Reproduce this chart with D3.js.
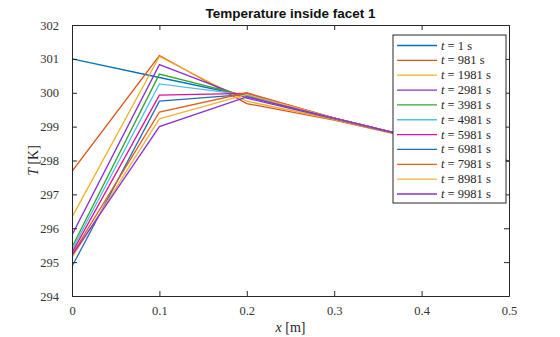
<!DOCTYPE html>
<html>
<head>
<meta charset="utf-8">
<script src="https://cdn.jsdelivr.net/npm/d3@7"></script>
<style>
  html, body { margin: 0; padding: 0; background: #fff; }
  svg { display: block; }
  .tick text { font-family: "Liberation Serif", "Times New Roman", serif; }
</style>
</head>
<body>
<svg id="chart" width="560" height="337"></svg>
<script>
// Node positions across the facet (m)
const positions = [0, 0.1, 0.2, 0.3, 0.4, 0.5];
// Snapshot times (s)
const times = [1, 981, 1981, 2981, 3981, 4981, 5981, 6981, 7981, 8981, 9981];
// Temperature (K) at each node, one array per snapshot
const temp_t1    = [301.00, 300.45, 299.90, 299.25, 298.62, 297.98];
const temp_t981  = [297.68, 301.10, 299.68, 299.19, 298.61, 297.98];
const temp_t1981 = [296.33, 301.07, 299.75, 299.21, 298.62, 297.98];
const temp_t2981 = [295.80, 300.83, 299.84, 299.23, 298.62, 297.98];
const temp_t3981 = [295.44, 300.55, 299.90, 299.24, 298.62, 297.98];
const temp_t4981 = [295.36, 300.26, 299.93, 299.25, 298.62, 297.98];
const temp_t5981 = [295.28, 299.93, 299.98, 299.25, 298.62, 297.98];
const temp_t6981 = [294.87, 299.75, 299.95, 299.25, 298.62, 297.98];
const temp_t7981 = [295.22, 299.43, 300.00, 299.25, 298.62, 297.98];
const temp_t8981 = [295.13, 299.23, 299.95, 299.25, 298.62, 297.98];
const temp_t9981 = [295.20, 299.00, 299.88, 299.25, 298.62, 297.98];
const seriesValues = [temp_t1, temp_t981, temp_t1981, temp_t2981, temp_t3981,
  temp_t4981, temp_t5981, temp_t6981, temp_t7981, temp_t8981, temp_t9981];
const xTicks = [0, 0.1, 0.2, 0.3, 0.4, 0.5];
const xTickLabels = ["0", "0.1", "0.2", "0.3", "0.4", "0.5"];
const yTicks = [294, 295, 296, 297, 298, 299, 300, 301, 302];

const colors = ["#0072BD", "#D95319", "#EDB120", "#8A2FD2", "#33A62E", "#4DBEEE",
  "#DD0F9B", "#1F6FB8", "#E0601E", "#F0B43A", "#8A2FD2"];

const svg = d3.select("#chart");
const m = { left: 72, right: 51, top: 25, bottom: 41 };
const W = 560, H = 337;
const iw = W - m.left - m.right, ih = H - m.top - m.bottom;

const x = d3.scaleLinear().domain([0, 0.5]).range([m.left, m.left + iw]);
const y = d3.scaleLinear().domain([294, 302]).range([m.top + ih, m.top]);

const axisColor = "#262626";
const serif = "Liberation Serif, Times New Roman, Times, serif";

// Clip lines to plot area
svg.append("defs").append("clipPath").attr("id", "plotclip")
  .append("rect").attr("x", m.left).attr("y", m.top).attr("width", iw).attr("height", ih);

// Series lines
const line = d3.line().x((d, i) => x(positions[i])).y(d => y(d));
svg.append("g").attr("clip-path", "url(#plotclip)")
  .selectAll("path").data(seriesValues).join("path")
  .attr("d", d => line(d))
  .attr("fill", "none")
  .attr("stroke", (d, i) => colors[i])
  .attr("stroke-width", 1.3)
  .attr("stroke-linejoin", "miter");

// Axes with inward ticks on all sides
function styleAxis(g) {
  g.attr("font-family", serif).attr("font-size", 12.5);
  g.selectAll("path").attr("stroke", axisColor).attr("stroke-width", 1);
  g.selectAll("line").attr("stroke", axisColor);
  g.selectAll("text").attr("fill", "#333").attr("font-family", serif);
}
const tickLen = 5;
svg.append("g").attr("transform", `translate(0,${m.top + ih})`)
  .call(d3.axisBottom(x).tickValues(xTicks).tickFormat((d, i) => xTickLabels[i])
    .tickSizeInner(-tickLen).tickSizeOuter(0).tickPadding(tickLen + 5))
  .call(styleAxis);
svg.append("g").attr("transform", `translate(0,${m.top})`)
  .call(d3.axisTop(x).tickValues(xTicks).tickFormat("").tickSizeInner(-tickLen).tickSizeOuter(0))
  .call(styleAxis);
svg.append("g").attr("transform", `translate(${m.left},0)`)
  .call(d3.axisLeft(y).tickValues(yTicks).tickFormat(d3.format("d"))
    .tickSizeInner(-tickLen).tickSizeOuter(0).tickPadding(tickLen + 8))
  .call(styleAxis);
svg.append("g").attr("transform", `translate(${m.left + iw},0)`)
  .call(d3.axisRight(y).tickValues(yTicks).tickFormat("").tickSizeInner(-tickLen).tickSizeOuter(0))
  .call(styleAxis);

// Title
svg.append("text").attr("x", m.left + iw / 2).attr("y", 18)
  .attr("text-anchor", "middle")
  .attr("font-family", "Liberation Sans, Arial, sans-serif")
  .attr("font-weight", "bold").attr("font-size", 13.5).attr("fill", "#111")
  .text("Temperature inside facet 1");

// Axis labels
const xl = svg.append("text").attr("x", m.left + iw / 2).attr("y", 332)
  .attr("text-anchor", "middle").attr("font-family", serif).attr("font-size", 14).attr("fill", axisColor);
xl.append("tspan").attr("font-style", "italic").text("x");
xl.append("tspan").text(" [m]");

const yl = svg.append("text").attr("transform", `translate(38,${m.top + ih / 2}) rotate(-90)`)
  .attr("text-anchor", "middle").attr("font-family", serif).attr("font-size", 14).attr("fill", axisColor);
yl.append("tspan").attr("font-style", "italic").text("T");
yl.append("tspan").text(" [K]");

// Legend
const lg = svg.append("g").attr("transform", "translate(393,35)");
lg.append("rect").attr("x", 0).attr("y", 0).attr("width", 113).attr("height", 168)
  .attr("fill", "#fff").attr("stroke", axisColor).attr("stroke-width", 1);
const rowH = 14.85;
const rows = lg.selectAll("g.row").data(times).join("g").attr("class", "row")
  .attr("transform", (d, i) => `translate(0,${10.5 + i * rowH})`);
rows.append("line").attr("x1", 4).attr("x2", 44).attr("y1", 0).attr("y2", 0)
  .attr("stroke", (d, i) => colors[i]).attr("stroke-width", 1.3);
const lt = rows.append("text").attr("x", 48).attr("y", 4)
  .attr("font-family", serif).attr("font-size", 12.5).attr("fill", axisColor);
lt.append("tspan").attr("font-style", "italic").text("t");
lt.append("tspan").text(d => ` = ${d} s`);
</script>
</body>
</html>
